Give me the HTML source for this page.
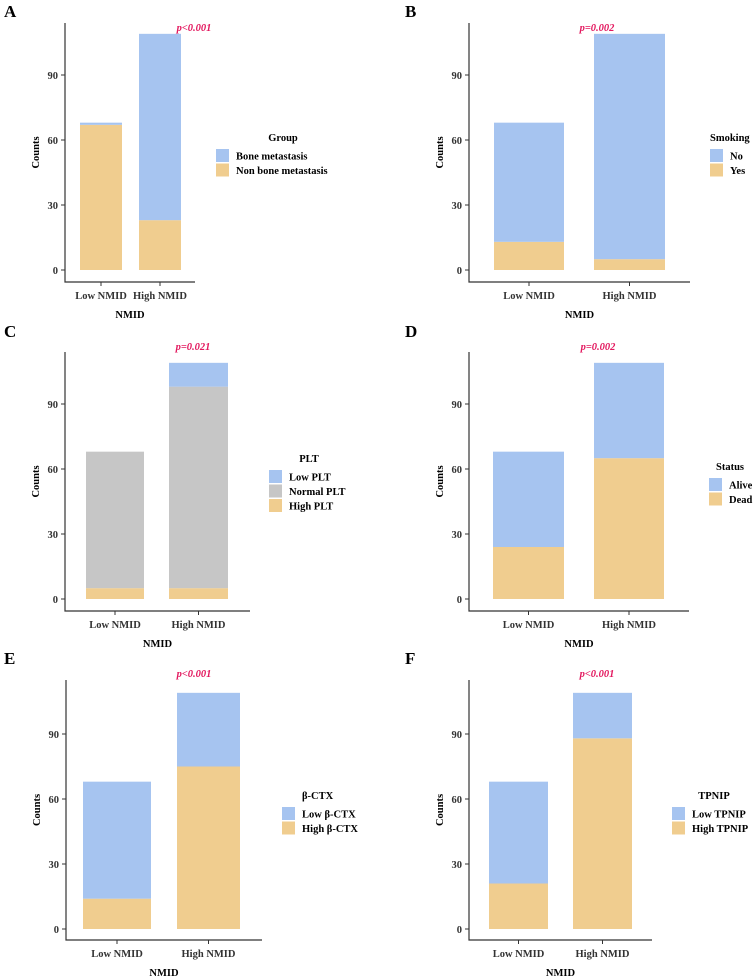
<!DOCTYPE html>
<html><head><meta charset="utf-8">
<style>
html,body{margin:0;padding:0;background:#fff;}
svg{display:block;font-family:"Liberation Serif",serif;}
</style></head>
<body>
<svg id="fig" width="754" height="977" viewBox="0 0 754 977"></svg>
<script>
const categories = ["Low NMID","High NMID"];
// Panel A: Group
const aSeries = ["Bone metastasis","Non bone metastasis"];
const aBone = [1, 86];
const aNonBone = [67, 23];
// Panel B: Smoking
const bSeries = ["No","Yes"];
const bNo = [55, 104];
const bYes = [13, 5];
// Panel C: PLT
const cSeries = ["Low PLT","Normal PLT","High PLT"];
const cLow = [0, 11];
const cNormal = [63, 93];
const cHigh = [5, 5];
// Panel D: Status
const dSeries = ["Alive","Dead"];
const dAlive = [44, 44];
const dDead = [24, 65];
// Panel E: beta-CTX
const eSeries = ["Low β-CTX","High β-CTX"];
const eLow = [54, 34];
const eHigh = [14, 75];
// Panel F: TPNIP
const fSeries = ["Low TPNIP","High TPNIP"];
const fLow = [47, 21];
const fHigh = [21, 88];
const yTicks = [0, 30, 60, 90];
const pValues = ["p<0.001","p=0.002","p=0.021","p=0.002","p<0.001","p<0.001"];

const NS="http://www.w3.org/2000/svg";
const svg=document.getElementById('fig');
const BLUE="#a6c4f0", ORANGE="#f0cd8f", GRAY="#c6c6c6";
const FS=10.5;
function mk(tag,attrs,parent,text){const e=document.createElementNS(NS,tag);for(const k in attrs)e.setAttribute(k,attrs[k]);if(text!==undefined)e.textContent=text;(parent||svg).appendChild(e);return e;}

function panel(cfg){
  const g=mk('g',{});
  
  
  const ppu=195/90;
  const y=v=>cfg.y0-v*ppu;
  const lt=mk('text',{x:cfg.lx,y:cfg.ly,'font-size':17,'font-weight':'bold'},g,cfg.letter);
  
  
  categories.forEach((c,i)=>{
    const [x1,x2]=cfg.bars[i];
    let acc=0;
    cfg.stack.forEach((s,j)=>{
      const v=s.vals[i];
      if(v<=0)return;
      const r=mk('rect',{x:x1,y:y(acc+v),width:x2-x1,height:v*ppu,fill:s.color},g);
      
      
      acc+=v;
    });
    const cx=(x1+x2)/2;
    mk('line',{x1:cx,x2:cx,y1:cfg.bottom,y2:cfg.bottom+4,stroke:'#333','stroke-width':1},g);
    const tl=mk('text',{x:cx,y:cfg.bottom+17,'font-size':FS,'font-weight':'bold','text-anchor':'middle',fill:'#333'},g,c);
    
    
  });
  const ax=mk('path',{d:`M${cfg.ax},${cfg.top}V${cfg.bottom}H${cfg.axEnd}`,fill:'none',stroke:'#333','stroke-width':1.2},g);
  
  
  yTicks.forEach(t=>{
    mk('line',{x1:cfg.ax-4,x2:cfg.ax,y1:y(t),y2:y(t),stroke:'#333','stroke-width':1},g);
    const yl=mk('text',{x:cfg.ax-7,y:y(t)+4,'font-size':FS,'font-weight':'bold','text-anchor':'end',fill:'#333'},g,String(t));
    
    
  });
  const yt=mk('text',{x:0,y:0,'font-size':FS,'font-weight':'bold','text-anchor':'middle',transform:`translate(${cfg.ax-26},${(cfg.top+cfg.bottom)/2}) rotate(-90)`},g,'Counts');
  
  
  const xt=mk('text',{x:(cfg.ax+cfg.axEnd)/2,y:cfg.bottom+36,'font-size':FS,'font-weight':'bold','text-anchor':'middle'},g,'NMID');
  
  
  const pv=mk('text',{x:cfg.px,y:cfg.py,'font-size':FS,'font-weight':'bold','font-style':'italic','text-anchor':'middle',fill:'#e3195f'},g,cfg.p);
  
  
  const tt=mk('text',{x:cfg.legTitleX,y:cfg.legY,'font-size':FS,'font-weight':'bold','text-anchor':cfg.legAnchor},g,cfg.title);
  
  
  cfg.legend.forEach((l,k)=>{
    const ky=cfg.legY+8+k*14.5;
    const r=mk('rect',{x:cfg.keyX,y:ky,width:13,height:13,fill:l.color},g);
    
    
    const lt2=mk('text',{x:cfg.keyX+20,y:ky+10.5,'font-size':FS,'font-weight':'bold'},g,l.label);
    
    
  });
}

panel({letter:'A',lx:4,ly:17,ax:65,top:23,bottom:282,axEnd:195,y0:270,bars:[[80,122],[139,181]],
  stack:[{key:'non-bone',vals:aNonBone,color:ORANGE},{key:'bone',vals:aBone,color:BLUE}],
  p:pValues[0],px:194,py:31,title:'Group',legTitleX:283,legY:141,legAnchor:'middle',keyX:216,
  legend:[{label:aSeries[0],color:BLUE},{label:aSeries[1],color:ORANGE}]});
panel({letter:'B',lx:405,ly:17,ax:469,top:23,bottom:282,axEnd:690,y0:270,bars:[[494,564],[594,665]],
  stack:[{key:'yes',vals:bYes,color:ORANGE},{key:'no',vals:bNo,color:BLUE}],
  p:pValues[1],px:597,py:31,title:'Smoking',legTitleX:710,legY:141,legAnchor:'start',keyX:710,
  legend:[{label:bSeries[0],color:BLUE},{label:bSeries[1],color:ORANGE}]});
panel({letter:'C',lx:4,ly:337,ax:65,top:352,bottom:611,axEnd:250,y0:599,bars:[[86,144],[169,228]],
  stack:[{key:'high-plt',vals:cHigh,color:ORANGE},{key:'normal-plt',vals:cNormal,color:GRAY},{key:'low-plt',vals:cLow,color:BLUE}],
  p:pValues[2],px:193,py:350,title:'PLT',legTitleX:309,legY:462,legAnchor:'middle',keyX:269,
  legend:[{label:cSeries[0],color:BLUE},{label:cSeries[1],color:GRAY},{label:cSeries[2],color:ORANGE}]});
panel({letter:'D',lx:405,ly:337,ax:469,top:352,bottom:611,axEnd:689,y0:599,bars:[[493,564],[594,664]],
  stack:[{key:'dead',vals:dDead,color:ORANGE},{key:'alive',vals:dAlive,color:BLUE}],
  p:pValues[3],px:598,py:350,title:'Status',legTitleX:730,legY:470,legAnchor:'middle',keyX:709,
  legend:[{label:dSeries[0],color:BLUE},{label:dSeries[1],color:ORANGE}]});
panel({letter:'E',lx:4,ly:664,ax:66,top:680,bottom:940,axEnd:262,y0:929,bars:[[83,151],[177,240]],
  stack:[{key:'high-ctx',vals:eHigh,color:ORANGE},{key:'low-ctx',vals:eLow,color:BLUE}],
  p:pValues[4],px:194,py:677,title:'β-CTX',legTitleX:302,legY:799,legAnchor:'start',keyX:282,
  legend:[{label:eSeries[0],color:BLUE},{label:eSeries[1],color:ORANGE}]});
panel({letter:'F',lx:405,ly:664,ax:469,top:680,bottom:940,axEnd:652,y0:929,bars:[[489,548],[573,632]],
  stack:[{key:'high-tpnip',vals:fHigh,color:ORANGE},{key:'low-tpnip',vals:fLow,color:BLUE}],
  p:pValues[5],px:597,py:677,title:'TPNIP',legTitleX:714,legY:799,legAnchor:'middle',keyX:672,
  legend:[{label:fSeries[0],color:BLUE},{label:fSeries[1],color:ORANGE}]});
</script>
</body></html>
